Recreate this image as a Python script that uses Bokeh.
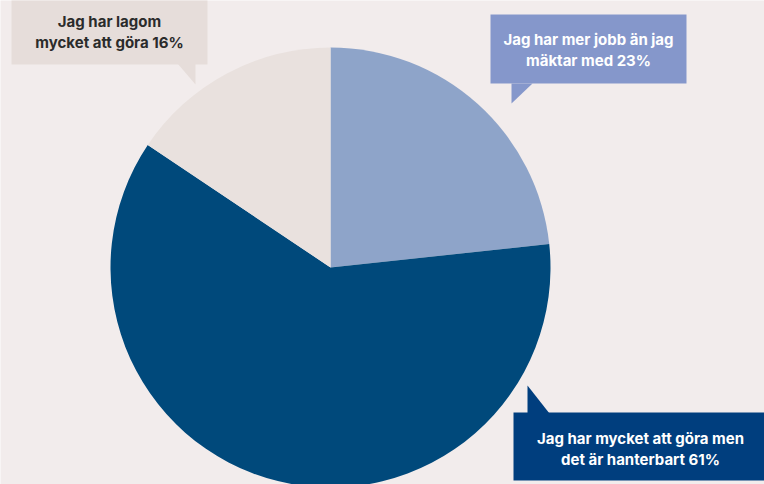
import numpy as np
from bokeh.plotting import figure
from bokeh.models import Range1d
from bokeh.core.properties import value
from bokeh.embed import file_html
from bokeh.resources import INLINE

# Data
labels = ["Jag har mer jobb än jag\nmäktar med 23%",
          "Jag har mycket att göra men\ndet är hanterbart 61%",
          "Jag har lagom\nmycket att göra 16%"]
shares = [23.3, 61.1, 15.6]
slice_colors = ["#8EA4C9", "#00497B", "#E9E1DE"]
box_colors = ["#8597CB", "#003E7E", "#E6DDDA"]
text_colors = ["#FFFFFF", "#FFFFFF", "#2B2B2B"]

W, H = 764, 484
BG = "#F2ECEC"

p = figure(width=W, height=H, output_backend="svg", toolbar_location=None,
           x_range=Range1d(0, W), y_range=Range1d(0, H), min_border=0)
p.axis.visible = False
p.grid.visible = False
p.outline_line_color = None
p.background_fill_color = BG
p.border_fill_color = BG

def Y(y):
    return H - y

# Pie
cx, cy, r = 330, Y(267), 220
frac = np.array(shares, dtype=float) / sum(shares)
cum = np.concatenate([[0], np.cumsum(frac)])
starts = np.pi / 2 - 2 * np.pi * cum[:-1]
ends = np.pi / 2 - 2 * np.pi * cum[1:]
p.wedge(x=[cx] * 3, y=[cy] * 3, radius=r, start_angle=list(starts), end_angle=list(ends),
        direction="clock", fill_color=slice_colors, line_color=None)

# Callouts: (left, right, top, bottom) in pixel coords, triangle pts, text center
boxes = [
    dict(l=490, r=686, t=14, b=83, tri=[(511, 83), (532, 83), (511, 103)], tx=588, ty=49),
    dict(l=513, r=764, t=412, b=480, tri=[(527, 385), (527, 413), (549, 413)], tx=640, ty=448),
    dict(l=11, r=207, t=-5, b=64, tri=[(177, 63), (195, 63), (195, 84)], tx=109, ty=31),
]
for i, bx in enumerate(boxes):
    p.quad(left=[bx["l"]], right=[bx["r"]], top=[Y(bx["t"])], bottom=[Y(bx["b"])],
           fill_color=box_colors[i], line_color=None)
    xs = [pt[0] for pt in bx["tri"]]
    ys = [Y(pt[1]) for pt in bx["tri"]]
    p.patch(x=xs, y=ys, fill_color=box_colors[i], line_color=None)
    lines = labels[i].split("\n")
    for j, ln in enumerate(lines):
        p.text(x=[bx["tx"]], y=[Y(bx["ty"] - 10.5 + 21 * j)], text=[ln],
               text_font=value("Inter"), text_font_style="bold", text_font_size="15px",
               text_color=text_colors[i], text_align="center", text_baseline="middle")

open("out.html", "w").write(file_html(p, INLINE))
